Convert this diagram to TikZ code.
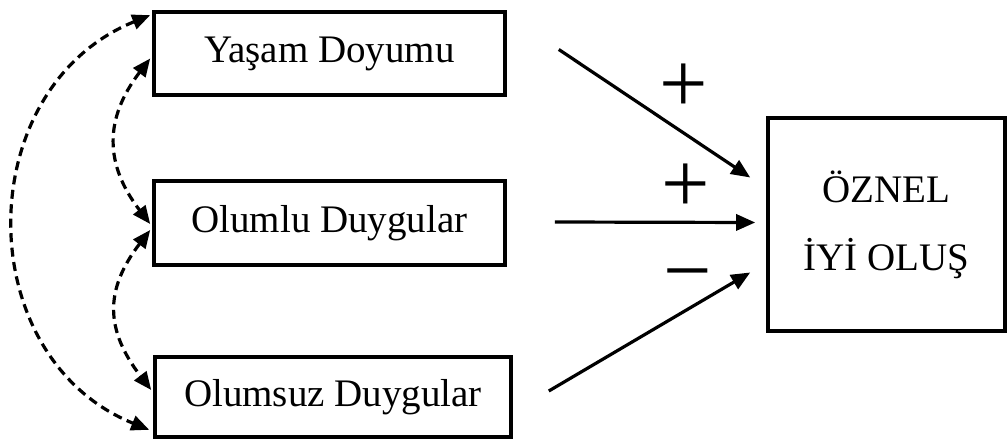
\documentclass[tikz,border=0pt]{standalone}
\usepackage{fontspec}
\setmainfont{Liberation Serif}
\usetikzlibrary{arrows.meta,calc}
\begin{document}
\begin{tikzpicture}[x=1pt,y=-1pt,
  box/.style={draw,line width=3.6pt,inner sep=0pt,font=\fontsize{39}{44}\selectfont},
  path/.style={line width=3.2pt,-{Triangle[length=19pt,width=16pt]}},
  corr/.style={line width=3.2pt,dash pattern=on 9pt off 5.5pt,{Triangle[length=18pt,width=15pt]}-{Triangle[length=18pt,width=15pt]}},
  sign/.style={font=\fontsize{86}{86}\selectfont,inner sep=0pt}]
\useasboundingbox (0,0) rectangle (1007,441);
\node[box,minimum width=351pt,minimum height=83pt] (y) at (329.5,53.5) {Yaşam Doyumu};
\node[box,minimum width=351pt,minimum height=84pt] (p) at (329.5,223) {Olumlu Duygular};
\node[box,minimum width=356pt,minimum height=80pt] (n) at (333,397) {Olumsuz Duygular};
\node[box,minimum width=237pt,minimum height=213pt,align=center,font=\fontsize{39}{68}\selectfont] (r) at (886.5,224.5) {ÖZNEL\\İYİ OLUŞ};
% paths
\draw[path] ($(y.east)+(52,-4)$) -- ($(r.west)+(-16,-47)$);
\draw[path] ($(p.east)+(48,-1)$) -- ($(r.west)+(-11,-2)$);
\draw[path] ($(n.east)+(36,-6)$) -- ($(r.west)+(-16,48)$);
% signs
\node[sign] (s1) at (684,88) {+};
\node[sign] (s2) at (686,188) {+};
\node[sign] (s3) at (688,284) {−};
% correlations
\draw[corr] ($(y.north west)+(-2,5)$) .. controls +(-180,73) and +(-180,-73) .. ($(n.south west)+(-4,-9)$);
\draw[corr] ($(y.west)+(-2,5)$) .. controls +(-46,60) and +(-46,-60) .. ($(p.west)+(-2,1)$);
\draw[corr] ($(p.west)+(-2,7)$) .. controls +(-46,60) and +(-46,-60) .. ($(n.west)+(-2,-7)$);
\end{tikzpicture}
\end{document}
